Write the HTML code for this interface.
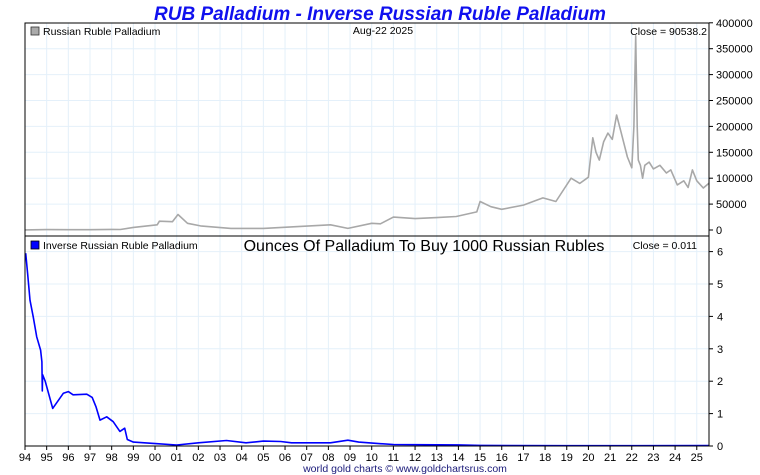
<!DOCTYPE html>
<html><head><meta charset="utf-8"><style>
html,body{margin:0;padding:0;background:#fff;}
svg{display:block;font-family:"Liberation Sans",sans-serif;}
</style></head><body>
<svg id="chart" width="760" height="475" viewBox="0 0 760 475">
<text x="380" y="20" text-anchor="middle" font-size="19" font-weight="bold" font-style="italic" fill="#1010ee">RUB Palladium - Inverse Russian Ruble Palladium</text>
<g id="grid"></g>
<g id="series"></g>
<rect x="25" y="23" width="684" height="213" fill="none" stroke="#000" stroke-width="1"/>
<rect x="25" y="236" width="684" height="210" fill="none" stroke="#000" stroke-width="1"/>
<g id="axes"></g>
<rect x="31" y="27" width="8" height="8" fill="#aaa" stroke="#333" stroke-width="0.8"/>
<text x="43" y="35" font-size="10.5" fill="#000">Russian Ruble Palladium</text>
<text x="383" y="34" text-anchor="middle" font-size="10.5" fill="#000">Aug-22  2025</text>
<text x="707" y="35" text-anchor="end" font-size="10.5" fill="#000">Close = 90538.2</text>
<rect x="31" y="241" width="8" height="8" fill="#0000ff" stroke="#000" stroke-width="0.8"/>
<text x="43" y="249" font-size="10.5" fill="#000">Inverse Russian Ruble Palladium</text>
<text x="424" y="251" text-anchor="middle" font-size="16" fill="#000">Ounces Of Palladium To Buy 1000 Russian Rubles</text>
<text x="697" y="249" text-anchor="end" font-size="10.5" fill="#000">Close = 0.011</text>
<text x="405" y="472" text-anchor="middle" font-size="10.5" fill="#1a1a7a">world gold charts © www.goldchartsrus.com</text>
</svg>
<script>
const years = [94,95,96,97,98,99,"00","01","02","03","04","05","06","07","08","09",10,11,12,13,14,15,16,17,18,19,20,21,22,23,24,25];
const topTicks = [0,50000,100000,150000,200000,250000,300000,350000,400000];
const botTicks = [0,1,2,3,4,5,6];
const priceDates = [1994.0,1995,1996,1997,1998.0,1998.4,1999.0,2000.1,2000.2,2000.8,2001.06,2001.5,2002.1,2003.5,2005,2006.7,2008.1,2008.9,2010.0,2010.4,2011,2012,2013,2013.9,2014.85,2015.0,2015.5,2016,2017,2017.9,2018.5,2019.2,2019.6,2020.0,2020.2,2020.35,2020.5,2020.7,2020.9,2021.1,2021.3,2021.5,2021.8,2022.0,2022.1,2022.18,2022.25,2022.3,2022.4,2022.5,2022.6,2022.8,2023.0,2023.3,2023.6,2023.8,2024.1,2024.4,2024.6,2024.8,2025.0,2025.3,2025.57];
const priceValues = [170,850,600,650,1200,1000,5000,10000,17000,16000,30000,13000,8000,3000,3000,7000,10000,3000,13000,12000,25000,22000,24000,26000,35000,55000,45000,40000,48000,62000,55000,100000,90000,102000,178000,150000,135000,170000,187000,175000,222000,190000,141000,120000,200000,375000,200000,135000,125000,100000,125000,131000,118000,125000,110000,116000,87000,95000,82000,116000,95000,81000,90538];
const invDates = [1994.03,1994.12,1994.23,1994.38,1994.54,1994.72,1994.78,1994.8,1994.81,1994.93,1995.28,1995.77,1996.0,1996.22,1996.85,1997.1,1997.28,1997.46,1997.77,1998.07,1998.38,1998.6,1998.72,1999.0,2000.1,2001.0,2002.0,2003.3,2004.2,2005.0,2005.8,2006.3,2008.1,2008.9,2009.4,2010.4,2011,2014,2015,2019,2025.57];
const invValues = [5.95,5.33,4.5,3.99,3.37,2.96,2.6,1.7,2.2,2.0,1.16,1.63,1.68,1.58,1.6,1.5,1.2,0.8,0.9,0.75,0.45,0.55,0.2,0.12,0.07,0.03,0.1,0.17,0.1,0.15,0.14,0.1,0.1,0.18,0.12,0.07,0.045,0.035,0.02,0.01,0.011];

const NS="http://www.w3.org/2000/svg";
const X0=25,X1=709;
function xScale(t){return X0+(t-1994)*21.67;}
function yTop(v){return 230-v/50000*25.9;}
function yBot(v){return 446-v*32.4;}
function mk(tag,attrs,parent){const e=document.createElementNS(NS,tag);for(const k in attrs)e.setAttribute(k,attrs[k]);parent.appendChild(e);return e;}
const grid=document.getElementById('grid'),axes=document.getElementById('axes'),series=document.getElementById('series');
const gc="#e4f0fa";
years.forEach((y,i)=>{
  const x=xScale(1994+i);
  if(i>0){
    const l=mk('line',{x1:x,x2:x,y1:23,y2:446,stroke:gc,'stroke-width':1},grid);
    
    
  }
  const tk=mk('line',{x1:x,x2:x,y1:446,y2:450,stroke:'#000'},axes);
  
  
  const t=mk('text',{x:x,y:461,'text-anchor':'middle','font-size':11,fill:'#000'},axes);
  t.textContent=String(y);
  
  
});
topTicks.forEach(v=>{
  const y=yTop(v);
  if(v>0&&v<400000){const l=mk('line',{x1:X0,x2:X1,y1:y,y2:y,stroke:gc},grid);
    
    }
  const tk=mk('line',{x1:X1,x2:X1+4,y1:y,y2:y,stroke:'#000'},axes);
  
  
  const t=mk('text',{x:X1+7,y:y+4,'font-size':11,fill:'#000'},axes);
  t.textContent=String(v);
  
  
});
botTicks.forEach(v=>{
  const y=yBot(v);
  if(v>0){const l=mk('line',{x1:X0,x2:X1,y1:y,y2:y,stroke:gc},grid);
    
    }
  const tk=mk('line',{x1:X1,x2:X1+4,y1:y,y2:y,stroke:'#000'},axes);
  
  
  const t=mk('text',{x:X1+8,y:y+4,'font-size':11,fill:'#000'},axes);
  t.textContent=String(v);
  
  
});
const p1=mk('polyline',{points:priceDates.map((d,i)=>xScale(d).toFixed(1)+','+yTop(priceValues[i]).toFixed(1)).join(' '),fill:'none',stroke:'#a8a8a8','stroke-width':1.6,'stroke-linejoin':'round'},series);


const p2=mk('polyline',{points:invDates.map((d,i)=>xScale(d).toFixed(1)+','+yBot(invValues[i]).toFixed(1)).join(' '),fill:'none',stroke:'#0000ff','stroke-width':1.6,'stroke-linejoin':'round'},series);


</script>
</body></html>
